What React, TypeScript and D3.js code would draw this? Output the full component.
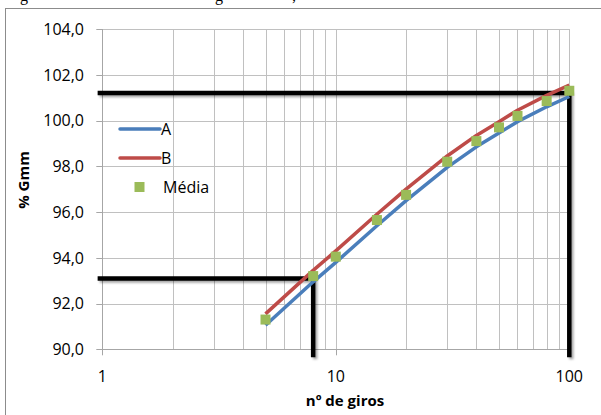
import React from "react";
import * as d3 from "d3";

const giros = [5, 8, 10, 15, 20, 30, 40, 50, 60, 80, 100];
const serieA = [91.05, 92.95, 93.8, 95.4, 96.5, 97.95, 98.85, 99.45, 99.95, 100.6, 101.05];
const serieB = [91.55, 93.45, 94.3, 95.9, 97.0, 98.45, 99.35, 99.95, 100.45, 101.1, 101.55];
const media = [91.3, 93.2, 94.05, 95.65, 96.75, 98.2, 99.1, 99.7, 100.2, 100.85, 101.3];

const yTicks = [90, 92, 94, 96, 98, 100, 102, 104];
const xMajorTicks = [1, 10, 100];
const xGrid = [1, 2, 3, 4, 5, 6, 7, 8, 9, 10, 20, 30, 40, 50, 60, 70, 80, 90, 100];

// reference (guide) lines: [x at which vertical drops, y level]
const refX = [8, 100];
const refY = [93.1, 101.2];
const refStartX = 0.955;
const refBottomY = 89.65;

const legendItems = ["A", "B", "Média"];

const FONT = "'Open Sans', sans-serif";

export default function App() {
  const W = 601;
  const H = 415;
  const x = d3.scaleLog().domain([1, 100]).range([102.3, 569.3]);
  const y = d3.scaleLinear().domain([90, 104]).range([349.3, 29]);

  const line = d3
    .line<number>()
    .x((_, i) => x(giros[i]))
    .y((d) => y(d));

  const fmt = (v: number) => v.toFixed(1).replace(".", ",");

  return (
    <svg
      width={W}
      height={H}
      style={{ position: "absolute", left: 0, top: 0, background: "#fff" }}
    >
      <defs>
        <filter id="shadow" x="-20%" y="-20%" width="140%" height="140%">
          <feDropShadow dx="2" dy="2" stdDeviation="1.2" floodColor="#000" floodOpacity="0.35" />
        </filter>
      </defs>

      {/* caption fragments cut at top */}
      <g fontFamily="'Liberation Serif', serif" fontSize={16} fill="#000">
        <text x={20} y={1}>g</text>
        <text x={215} y={1}>g</text>
        <text x={292} y={1}>,</text>
      </g>

      {/* chart frame */}
      <rect x={5.5} y={8.5} width={700} height={500} fill="#fff" stroke="#8c8c8c" strokeWidth={1} />

      {/* gridlines */}
      <g stroke="#c0c0c0" strokeWidth={1}>
        {yTicks.map((t) => (
          <line key={"hy" + t} x1={x(1)} x2={x(100)} y1={Math.round(y(t)) + 0.5} y2={Math.round(y(t)) + 0.5} />
        ))}
        {xGrid.map((t) => (
          <line key={"vx" + t} x1={Math.round(x(t)) + 0.5} x2={Math.round(x(t)) + 0.5} y1={y(104)} y2={y(90)} />
        ))}
      </g>

      {/* axes */}
      <g stroke="#a6a6a6" strokeWidth={1}>
        <line x1={Math.round(x(1)) + 0.5} x2={Math.round(x(1)) + 0.5} y1={y(104)} y2={y(90)} />
        <line x1={x(1)} x2={x(100)} y1={Math.round(y(90)) + 0.5} y2={Math.round(y(90)) + 0.5} />
        {yTicks.map((t) => (
          <line key={"ty" + t} x1={x(1) - 6} x2={x(1)} y1={Math.round(y(t)) + 0.5} y2={Math.round(y(t)) + 0.5} />
        ))}
        {xMajorTicks.map((t) => (
          <line key={"tx" + t} x1={Math.round(x(t)) + 0.5} x2={Math.round(x(t)) + 0.5} y1={y(90)} y2={y(90) + 6} />
        ))}
      </g>

      {/* tick labels */}
      <g fontFamily={FONT} fontSize={16} fill="#000">
        {yTicks.map((t) => (
          <text key={"ly" + t} x={84} y={y(t)} dy="0.36em" textAnchor="end">
            {fmt(t)}
          </text>
        ))}
        {xMajorTicks.map((t) => (
          <text key={"lx" + t} x={x(t)} y={381.5} textAnchor="middle">
            {t}
          </text>
        ))}
      </g>

      {/* axis titles */}
      <text
        x={345}
        y={406}
        textAnchor="middle"
        fontFamily={FONT}
        fontWeight="bold"
        fontSize={15}
      >
        nº de giros
      </text>
      <text
        transform={`translate(29,180) rotate(-90)`}
        textAnchor="middle"
        fontFamily={FONT}
        fontWeight="bold"
        fontSize={15}
      >
        % Gmm
      </text>

      {/* reference guide lines */}
      <g stroke="#000" strokeWidth={4.5} fill="none" filter="url(#shadow)">
        {refX.map((rx, i) => (
          <path
            key={"ref" + i}
            d={`M${x(refStartX)},${y(refY[i])}H${x(rx)}V${y(refBottomY)}`}
            strokeLinejoin="miter"
          />
        ))}
      </g>

      {/* series */}
      <path d={line(serieA) || ""} fill="none" stroke="#4a7ebb" strokeWidth={3.5} strokeLinejoin="round" />
      <path d={line(serieB) || ""} fill="none" stroke="#be4b48" strokeWidth={3.5} strokeLinejoin="round" />
      {media.map((v, i) => (
        <rect key={"m" + i} x={x(giros[i]) - 5} y={y(v) - 5} width={10} height={10} fill="#9bbb59" />
      ))}

      {/* legend */}
      <g fontFamily={FONT} fontSize={16} fill="#000">
        <line x1={120} x2={160} y1={129} y2={129} stroke="#4a7ebb" strokeWidth={3.5} strokeLinecap="round" />
        <text x={161} y={135}>{legendItems[0]}</text>
        <line x1={120} x2={160} y1={158} y2={158} stroke="#be4b48" strokeWidth={3.5} strokeLinecap="round" />
        <text x={161} y={164}>{legendItems[1]}</text>
        <rect x={134.5} y={182} width={10} height={10} fill="#9bbb59" />
        <text x={163} y={193}>{legendItems[2]}</text>
      </g>
    </svg>
  );
}
